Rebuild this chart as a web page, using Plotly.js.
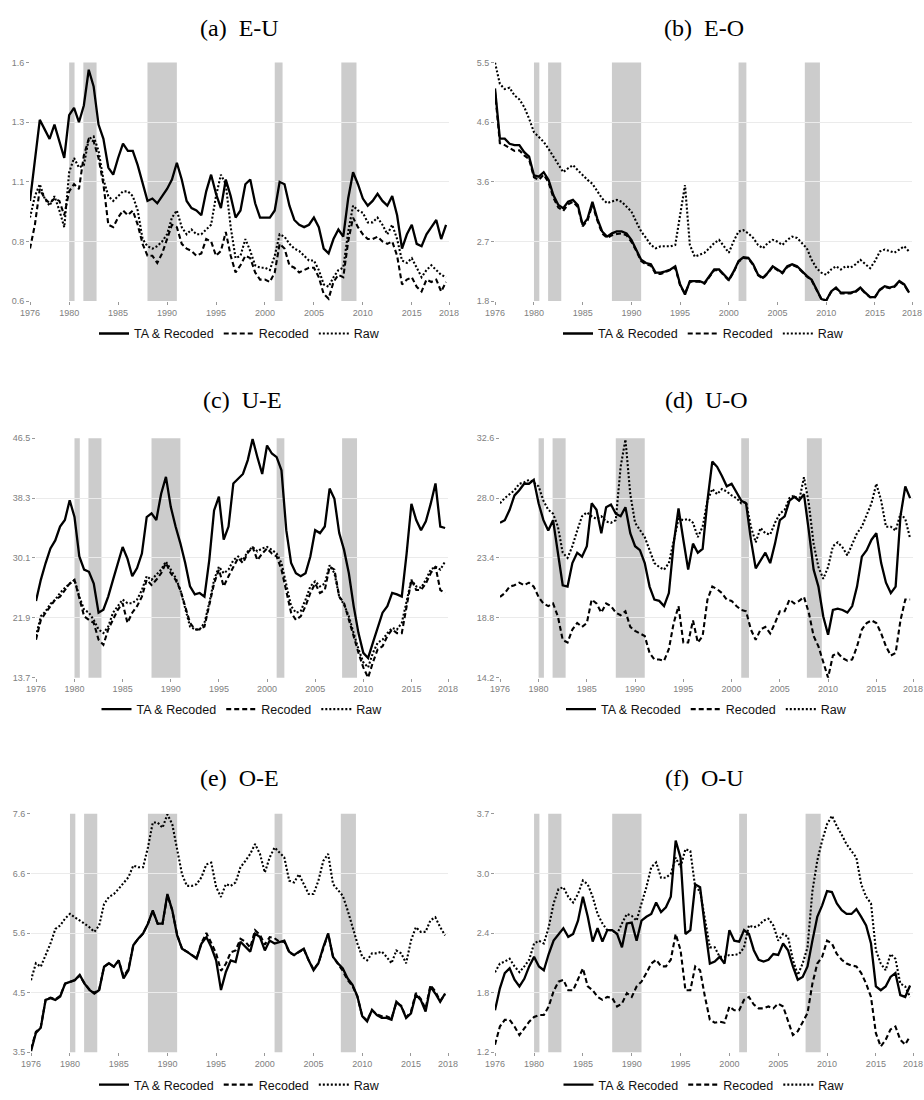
<!DOCTYPE html>
<html><head><meta charset="utf-8">
<script src="https://cdn.plot.ly/plotly-3.0.1.min.js"></script>
<style>html,body{margin:0;padding:0;background:#fff;}#chart{width:924px;height:1100px;}</style>
</head><body><div id="chart"></div>
<script>
// ---- data ----
const years = [1976,1976.5,1977,1977.5,1978,1978.5,1979,1979.5,1980,1980.5,
1981,1981.5,1982,1982.5,1983,1983.5,1984,1984.5,1985,1985.5,
1986,1986.5,1987,1987.5,1988,1988.5,1989,1989.5,1990,1990.5,
1991,1991.5,1992,1992.5,1993,1993.5,1994,1994.5,1995,1995.5,
1996,1996.5,1997,1997.5,1998,1998.5,1999,1999.5,2000,2000.5,
2001,2001.5,2002,2002.5,2003,2003.5,2004,2004.5,2005,2005.5,
2006,2006.5,2007,2007.5,2008,2008.5,2009,2009.5,2010,2010.5,
2011,2011.5,2012,2012.5,2013,2013.5,2014,2014.5,2015,2015.5,
2016,2016.5,2017,2017.5,2018,2018.5];

const recStart = [1980.0, 1981.45, 1988.0, 2001.0, 2007.8];
const recEnd   = [1980.55, 1982.8, 1991.0, 2001.8, 2009.35];

const seriesNames = ['TA & Recoded', 'Recoded', 'Raw'];
const panelTitles = ['(a)\u00a0\u00a0E-U', '(b)\u00a0\u00a0E-O', '(c)\u00a0\u00a0U-E', '(d)\u00a0\u00a0U-O', '(e)\u00a0\u00a0O-E', '(f)\u00a0\u00a0O-U'];

const xTickVals = [1976,1980,1985,1990,1995,2000,2005,2010,2015,2018.8];
const xTickText = ['1976','1980','1985','1990','1995','2000','2005','2010','2015','2018'];

const aYRange = [0.6, 1.6];   const aYTicks = ['0.6','0.8','1.1','1.3','1.6'];
const bYRange = [1.8, 5.5];   const bYTicks = ['1.8','2.7','3.6','4.6','5.5'];
const cYRange = [13.7, 46.5]; const cYTicks = ['13.7','21.9','30.1','38.3','46.5'];
const dYRange = [14.2, 32.6]; const dYTicks = ['14.2','18.8','23.4','28.0','32.6'];
const eYRange = [3.5, 7.6];   const eYTicks = ['3.5','4.5','5.6','6.6','7.6'];
const fYRange = [1.2, 3.7];   const fYTicks = ['1.2','1.8','2.4','3.0','3.7'];

const aTA = [1.02,1.20,1.36,1.32,1.28,1.34,1.27,1.20,1.38,1.41,
1.35,1.42,1.57,1.50,1.34,1.28,1.16,1.13,1.20,1.26,
1.23,1.23,1.17,1.09,1.02,1.03,1.01,1.04,1.07,1.11,
1.18,1.11,1.02,0.99,0.98,0.96,1.06,1.13,1.05,0.99,
1.11,1.04,0.95,0.98,1.09,1.11,1.01,0.95,0.95,0.95,
0.98,1.10,1.09,1.00,0.94,0.92,0.91,0.92,0.95,0.91,
0.82,0.80,0.86,0.90,0.87,1.03,1.14,1.09,1.03,1.00,
1.02,1.05,1.02,1.00,1.04,0.96,0.82,0.88,0.92,0.84,
0.83,0.88,0.91,0.94,0.86,0.92];
const aRec = [0.82,0.92,1.07,1.03,1.01,1.03,1.02,0.96,1.06,1.09,
1.07,1.21,1.28,1.27,1.20,1.09,0.92,0.91,0.95,0.98,
0.96,0.98,0.92,0.84,0.79,0.79,0.76,0.80,0.86,0.92,
0.91,0.84,0.82,0.81,0.79,0.80,0.86,0.85,0.79,0.81,
0.89,0.79,0.72,0.75,0.79,0.78,0.72,0.69,0.69,0.68,
0.72,0.84,0.82,0.75,0.74,0.72,0.73,0.74,0.74,0.70,
0.63,0.61,0.68,0.71,0.70,0.85,0.95,0.91,0.88,0.86,
0.86,0.87,0.85,0.84,0.85,0.79,0.67,0.69,0.70,0.66,
0.64,0.69,0.68,0.69,0.64,0.68];
const aRaw = [0.95,1.04,1.09,1.03,1.00,1.04,0.98,0.91,1.14,1.20,
1.16,1.17,1.28,1.29,1.23,1.11,1.04,1.02,1.04,1.06,
1.06,1.04,0.98,0.86,0.83,0.82,0.83,0.85,0.88,0.95,
0.98,0.91,0.88,0.90,0.88,0.88,0.90,0.92,1.04,1.13,
1.09,0.91,0.78,0.79,0.86,0.81,0.75,0.74,0.74,0.73,
0.79,0.88,0.87,0.84,0.82,0.81,0.79,0.77,0.77,0.73,
0.67,0.66,0.70,0.73,0.74,0.89,1.00,0.98,0.97,0.93,
0.93,0.95,0.92,0.88,0.92,0.86,0.77,0.76,0.78,0.74,
0.70,0.73,0.75,0.73,0.71,0.70];

const bTA = [5.10,4.32,4.32,4.24,4.22,4.22,4.11,4.04,3.75,3.73,
3.80,3.68,3.44,3.29,3.24,3.34,3.37,3.29,2.98,3.08,
3.34,3.08,2.88,2.80,2.85,2.88,2.88,2.85,2.75,2.60,
2.44,2.39,2.37,2.24,2.24,2.26,2.29,2.34,2.06,1.90,
2.11,2.11,2.11,2.08,2.19,2.29,2.29,2.21,2.13,2.26,
2.42,2.48,2.47,2.37,2.21,2.16,2.24,2.34,2.29,2.24,
2.34,2.37,2.34,2.26,2.19,2.13,1.98,1.83,1.81,1.95,
2.01,1.93,1.93,1.93,1.95,2.01,1.93,1.86,1.86,1.98,
2.03,2.01,2.03,2.11,2.06,1.93];
const bRec = [5.05,4.25,4.22,4.18,4.13,4.14,4.06,4.00,3.72,3.68,
3.76,3.64,3.40,3.25,3.20,3.30,3.34,3.26,2.96,3.05,
3.30,3.05,2.85,2.78,2.82,2.84,2.85,2.82,2.72,2.58,
2.42,2.37,2.35,2.22,2.22,2.25,2.28,2.32,2.04,1.92,
2.10,2.10,2.10,2.07,2.18,2.28,2.28,2.20,2.12,2.25,
2.41,2.47,2.46,2.36,2.20,2.15,2.23,2.33,2.28,2.23,
2.33,2.36,2.33,2.25,2.18,2.12,1.97,1.83,1.81,1.94,
2.00,1.92,1.92,1.92,1.94,2.00,1.92,1.86,1.86,1.97,
2.02,2.00,2.02,2.10,2.05,1.93];
const bRaw = [5.50,5.17,5.09,5.11,4.99,4.93,4.81,4.63,4.42,4.34,
4.27,4.16,4.04,3.91,3.80,3.86,3.91,3.83,3.75,3.68,
3.62,3.50,3.39,3.32,3.34,3.37,3.34,3.26,3.19,3.03,
2.88,2.78,2.67,2.62,2.65,2.65,2.65,2.67,3.14,3.60,
2.67,2.49,2.52,2.55,2.62,2.70,2.75,2.65,2.55,2.73,
2.88,2.90,2.85,2.78,2.67,2.62,2.70,2.75,2.72,2.67,
2.75,2.80,2.78,2.70,2.62,2.44,2.31,2.24,2.21,2.29,
2.34,2.29,2.34,2.32,2.37,2.44,2.37,2.31,2.42,2.57,
2.60,2.57,2.55,2.60,2.65,2.57];

const cTA = [24.2,27.1,29.4,31.4,32.5,34.4,35.3,38.0,35.7,30.3,
28.5,28.2,26.6,22.6,23.0,24.8,27.1,29.4,31.6,30.0,
27.6,28.7,30.7,35.7,36.2,35.3,38.9,41.2,37.1,34.4,
32.1,29.4,26.2,25.1,25.3,24.8,29.8,36.6,38.5,32.6,
34.4,40.3,41.0,41.6,43.5,46.4,43.9,41.6,45.5,44.4,
43.9,42.1,33.9,29.4,28.0,27.6,28.0,30.3,33.9,33.5,
34.4,39.6,38.2,33.5,31.2,28.0,23.5,19.8,17.1,16.4,
18.5,20.7,22.6,23.5,25.3,25.1,24.8,30.7,37.5,35.3,
33.9,35.1,37.5,40.3,34.4,34.2];
const cRec = [18.9,21.6,22.6,23.5,24.4,24.8,25.7,26.6,27.1,24.4,
22.1,21.6,21.2,18.9,18.2,20.3,21.6,23.0,23.9,21.2,
22.6,23.5,24.8,27.1,26.4,27.1,28.0,29.4,28.0,27.1,
25.7,23.5,21.2,20.3,20.3,20.7,23.5,26.6,28.5,26.2,
27.6,28.9,30.1,29.4,30.8,31.6,29.8,30.7,31.4,30.7,
30.3,28.5,25.3,22.6,21.6,22.1,23.5,25.3,26.6,25.3,
25.7,28.9,28.5,24.8,23.9,21.6,19.3,17.1,15.1,13.7,
15.8,17.6,18.0,19.4,20.3,19.8,19.8,23.5,27.1,25.7,
25.7,26.6,28.0,28.9,25.7,25.3];
const cRaw = [19.4,22.1,22.8,23.8,24.4,25.3,26.0,26.6,27.1,24.8,
23.0,22.6,21.6,20.3,19.8,20.7,22.6,23.5,24.4,23.9,
23.9,24.4,25.7,27.6,27.1,27.8,28.5,29.6,28.5,27.4,
25.7,23.0,20.7,20.3,20.3,21.2,23.9,27.1,28.9,28.0,
28.5,29.8,30.3,29.8,31.0,31.6,31.0,31.4,31.6,31.2,
30.7,29.4,26.2,23.5,22.6,22.8,24.4,26.2,26.9,26.2,
26.6,29.1,28.0,24.8,23.7,22.1,19.8,17.6,15.8,15.1,
17.1,18.5,18.9,19.8,20.5,20.3,21.2,24.4,27.1,26.2,
26.0,27.1,28.5,28.9,28.5,29.6];

const dTA = [26.1,26.3,27.1,28.2,28.6,29.1,29.1,29.4,27.6,26.3,
25.5,26.3,23.8,21.3,21.2,23.0,23.8,23.5,24.3,27.6,
27.1,25.3,27.3,27.5,26.8,26.6,27.3,25.3,24.3,24.0,
23.0,21.2,20.2,20.1,19.7,20.7,24.5,27.2,24.8,22.5,
24.5,23.8,24.1,27.8,30.8,30.4,29.7,28.9,29.1,28.5,
27.8,27.6,24.8,22.6,23.2,23.8,23.0,24.5,26.3,26.6,
27.8,28.1,27.8,28.3,25.5,22.5,21.2,18.9,17.5,19.4,
19.5,19.4,19.2,19.7,21.2,23.5,24.0,24.8,25.3,23.0,
21.5,20.7,21.2,26.6,28.9,28.0];
const dRec = [20.4,20.7,21.2,21.3,21.5,21.3,21.5,21.2,20.4,19.9,
19.7,19.9,18.9,17.1,16.9,17.9,18.4,18.1,18.4,20.2,
19.9,19.2,19.9,19.7,19.2,19.0,19.3,18.1,17.8,17.6,
17.4,16.1,15.6,15.6,15.5,16.4,18.4,19.7,16.9,16.9,
18.6,16.9,17.4,20.2,21.2,21.0,20.7,20.2,20.1,19.7,
19.4,19.3,17.9,17.1,17.9,18.1,17.6,18.4,19.3,19.3,
20.2,19.9,20.1,20.4,19.2,17.4,16.6,15.4,14.2,15.9,
16.1,15.7,15.5,15.6,16.6,17.9,18.4,18.6,18.4,17.6,
16.6,15.9,16.1,18.6,20.2,20.2];
const dRaw = [27.6,28.0,28.3,28.6,29.1,29.2,29.4,29.2,28.9,27.8,
27.1,26.8,25.8,23.8,23.4,24.3,25.5,26.6,26.9,26.6,
26.4,26.6,26.2,26.1,26.3,30.4,32.5,28.3,26.1,25.5,
25.0,24.0,23.0,22.7,22.5,23.0,24.8,26.4,26.3,26.4,
26.1,25.0,25.8,27.8,28.7,28.3,28.7,28.5,28.2,28.0,
27.6,27.7,25.8,24.6,25.7,25.3,25.2,26.1,26.8,27.1,
28.0,28.2,27.8,29.6,27.6,24.5,22.7,21.8,22.7,24.3,
24.6,24.2,23.6,24.4,25.3,25.8,26.7,27.6,29.1,27.8,
25.8,25.8,25.5,26.8,26.4,24.9];

const eTA = [3.52,3.83,3.92,4.40,4.43,4.40,4.46,4.68,4.71,4.74,
4.83,4.68,4.57,4.51,4.57,4.97,5.03,4.97,5.08,4.77,
4.91,5.34,5.45,5.54,5.71,5.94,5.71,5.71,6.22,5.94,
5.51,5.28,5.23,5.17,5.11,5.37,5.48,5.31,5.08,4.57,
4.88,5.08,5.05,5.40,5.31,5.23,5.54,5.48,5.25,5.42,
5.37,5.40,5.42,5.23,5.17,5.23,5.28,5.08,4.91,5.03,
5.31,5.54,5.14,5.03,4.94,4.77,4.66,4.46,4.12,4.03,
4.23,4.14,4.09,4.09,4.06,4.37,4.29,4.09,4.17,4.49,
4.40,4.20,4.63,4.51,4.37,4.51];
const eRec = [3.55,3.85,3.93,4.40,4.44,4.41,4.47,4.68,4.71,4.74,
4.82,4.68,4.58,4.52,4.58,4.97,5.03,4.97,5.08,4.80,
4.93,5.34,5.45,5.54,5.71,5.93,5.71,5.71,6.20,5.94,
5.52,5.28,5.23,5.18,5.12,5.38,5.55,5.38,5.20,4.90,
5.02,5.22,5.25,5.45,5.40,5.30,5.60,5.52,5.35,5.48,
5.46,5.40,5.40,5.22,5.17,5.22,5.27,5.08,4.93,5.03,
5.30,5.54,5.14,5.02,4.90,4.74,4.64,4.46,4.12,4.05,
4.22,4.15,4.12,4.12,4.08,4.35,4.30,4.10,4.20,4.52,
4.42,4.25,4.65,4.55,4.38,4.50];
const eRaw = [4.74,5.03,4.97,5.17,5.37,5.62,5.68,5.80,5.88,5.82,
5.77,5.71,5.65,5.57,5.68,6.05,6.17,6.22,6.31,6.42,
6.51,6.71,6.68,6.68,7.02,7.45,7.45,7.36,7.59,7.42,
6.96,6.56,6.36,6.36,6.39,6.51,6.73,6.76,6.34,6.17,
6.39,6.36,6.42,6.68,6.79,6.91,7.08,6.91,6.59,6.85,
7.02,6.93,6.85,6.45,6.42,6.56,6.39,6.22,6.22,6.45,
6.79,6.91,6.39,6.28,6.19,5.94,5.65,5.37,5.14,5.08,
5.20,5.20,5.23,5.14,5.03,5.25,5.20,5.03,5.42,5.65,
5.57,5.57,5.77,5.82,5.65,5.51];

const fTA = [1.64,1.87,2.03,2.08,1.96,1.89,1.97,2.10,2.20,2.10,
2.06,2.23,2.37,2.44,2.50,2.41,2.44,2.58,2.83,2.62,
2.36,2.50,2.36,2.48,2.48,2.44,2.30,2.55,2.56,2.37,
2.58,2.62,2.65,2.77,2.67,2.72,2.83,3.42,3.24,2.44,
2.48,2.96,2.93,2.51,2.13,2.15,2.20,2.13,2.48,2.37,
2.36,2.48,2.44,2.27,2.17,2.15,2.17,2.23,2.22,2.34,
2.27,2.10,1.96,1.99,2.10,2.37,2.62,2.74,2.89,2.88,
2.76,2.69,2.65,2.65,2.70,2.62,2.53,2.34,1.89,1.85,
1.89,1.99,2.03,1.80,1.78,1.90];
const fRec = [1.28,1.47,1.54,1.54,1.47,1.38,1.45,1.52,1.57,1.59,
1.59,1.68,1.84,1.94,1.96,1.85,1.85,1.96,2.08,1.89,
1.85,1.78,1.75,1.78,1.77,1.68,1.71,1.82,1.78,1.89,
1.94,2.03,2.13,2.17,2.10,2.10,2.17,2.44,2.27,1.85,
1.85,2.10,2.06,1.78,1.54,1.51,1.52,1.51,1.68,1.64,
1.64,1.75,1.78,1.70,1.66,1.66,1.68,1.66,1.71,1.68,
1.54,1.38,1.42,1.51,1.61,1.92,2.13,2.20,2.37,2.34,
2.23,2.17,2.13,2.11,2.10,2.03,1.92,1.78,1.40,1.26,
1.33,1.44,1.47,1.33,1.28,1.37];
const fRaw = [2.04,2.13,2.15,2.18,2.10,2.04,2.10,2.17,2.34,2.37,
2.34,2.51,2.76,2.91,2.93,2.83,2.77,2.86,3.00,2.96,
2.83,2.65,2.55,2.48,2.48,2.44,2.55,2.65,2.63,2.58,
2.76,2.93,3.14,3.19,3.03,3.03,3.07,3.24,3.14,3.33,
3.31,2.93,2.89,2.58,2.30,2.30,2.20,2.20,2.22,2.22,
2.23,2.30,2.53,2.51,2.53,2.58,2.60,2.53,2.37,2.44,
2.41,2.17,2.01,2.13,2.30,2.89,3.21,3.42,3.59,3.68,
3.57,3.48,3.38,3.31,3.24,2.96,2.83,2.76,2.27,2.13,
2.06,2.23,2.18,1.92,1.89,1.78];

// ---- layout geometry (pixels) ----
const W = 924, H = 1100;
const panels = [
  {series:[aTA,aRec,aRaw], yr:aYRange, yt:aYTicks, px:[30,449], py:[63,303], ty:28,  ly:336},
  {series:[bTA,bRec,bRaw], yr:bYRange, yt:bYTicks, px:[495,912], py:[63,303], ty:28,  ly:336},
  {series:[cTA,cRec,cRaw], yr:cYRange, yt:cYTicks, px:[36,448], py:[441,682], ty:403, ly:714},
  {series:[dTA,dRec,dRaw], yr:dYRange, yt:dYTicks, px:[500,913], py:[441,682], ty:403, ly:714},
  {series:[eTA,eRec,eRaw], yr:eYRange, yt:eYTicks, px:[31,448], py:[819,1059], ty:783, ly:1092},
  {series:[fTA,fRec,fRaw], yr:fYRange, yt:fYTicks, px:[495,913], py:[819,1059], ty:783, ly:1092}
];
const lineStyles = [
  {color:'#000', width:2.3, dash:'solid'},
  {color:'#000', width:2.1, dash:'5px,3px'},
  {color:'#000', width:2.1, dash:'2px,2px'}
];
const tickFont = {family:'Liberation Sans, Arial, sans-serif', size:9, color:'#808080'};

const traces = [], shapes = [], annotations = [];
const layout = {
  width:W, height:H, autosize:false,
  margin:{l:0,r:0,t:0,b:0},
  paper_bgcolor:'#fff', plot_bgcolor:'#fff',
  showlegend:true
};

let bad = false;
panels.forEach((p, i) => {
  const n = i === 0 ? '' : String(i+1);
  const xa = 'x'+n, ya = 'y'+n, lg = 'legend'+n;
  const yLo = p.yr[0], yHi = p.yr[1];
  const yVals = [0,1,2,3,4].map(k => k === 4 ? yHi : yLo + k*(yHi-yLo)/4);
  layout['xaxis'+n] = {
    domain:[p.px[0]/W, p.px[1]/W], range:[1976, 2018.8], anchor:ya,
    tickmode:'array', tickvals:xTickVals, ticktext:xTickText,
    showgrid:false, zeroline:false, showline:false,
    ticks:'outside', ticklen:3, tickwidth:1, tickcolor:'#999',
    tickfont:tickFont, fixedrange:true
  };
  layout['yaxis'+n] = {
    domain:[1-p.py[1]/H, 1-p.py[0]/H], range:[yLo, yHi], anchor:xa,
    tickmode:'array', tickvals:yVals, ticktext:p.yt,
    showgrid:true, gridcolor:'#ebebeb', gridwidth:1,
    zeroline:false, showline:false,
    ticks:'outside', ticklen:3, tickwidth:1, tickcolor:'#999',
    tickfont:tickFont, fixedrange:true
  };
  layout[lg] = {
    orientation:'h', xref:'paper', yref:'paper',
    x:(p.px[0]+p.px[1])/2/W, xanchor:'center',
    y:1-p.ly/H, yanchor:'middle',
    font:{family:'Liberation Sans, Arial, sans-serif', size:12.5, color:'#111'},
    bgcolor:'rgba(0,0,0,0)', itemwidth:30, tracegroupgap:0
  };
  p.series.forEach((s, j) => {
    if (s.length !== years.length) bad = true;
    traces.push({
      type:'scatter', mode:'lines', x:years, y:s,
      name:seriesNames[j], xaxis:xa, yaxis:ya, legend:lg,
      line:lineStyles[j], hoverinfo:'skip'
    });
  });
  recStart.forEach((r0, k) => {
    shapes.push({type:'rect', xref:xa, yref:ya+' domain', x0:r0, x1:recEnd[k], y0:0, y1:1,
      fillcolor:'#cccccc', line:{width:0}, layer:'below'});
  });
  annotations.push({
    text:panelTitles[i], xref:'paper', yref:'paper',
    x:(p.px[0]+p.px[1])/2/W, y:1-p.ty/H, xanchor:'center', yanchor:'middle',
    showarrow:false, font:{family:'Liberation Serif, Times New Roman, serif', size:24, color:'#000'}
  });
});
if (bad) annotations.push({text:'LENGTH MISMATCH', xref:'paper', yref:'paper', x:0.5, y:0.5, showarrow:false, font:{size:40,color:'red'}});
layout.shapes = shapes;
layout.annotations = annotations;

Plotly.newPlot('chart', traces, layout, {staticPlot:true, displayModeBar:false});
</script>
</body></html>
